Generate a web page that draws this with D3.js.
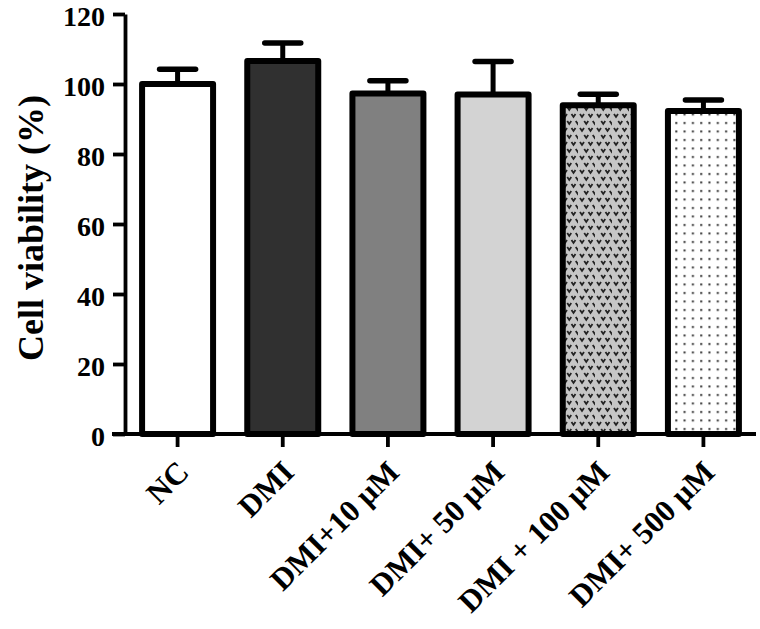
<!DOCTYPE html>
<html>
<head>
<meta charset="utf-8">
<script src="https://cdn.jsdelivr.net/npm/d3@7"></script>
<style>
  html, body { margin: 0; padding: 0; background: #fff; }
  svg { display: block; }
  text { font-family: "Liberation Serif", "Times New Roman", serif; font-weight: bold; fill: #000; }
</style>
</head>
<body>
<svg id="chart" width="760" height="629"></svg>
<script>
const categories = ["NC", "DMI", "DMI+10 \u00b5M", "DMI+ 50 \u00b5M", "DMI + 100 \u00b5M", "DMI+ 500 \u00b5M"];
const means = [100, 106.6, 97.3, 97.0, 93.9, 92.3];
const errors = [4.2, 5.1, 3.6, 9.4, 3.2, 3.1];
const fills = ["#ffffff", "#303030", "#808080", "#d3d3d3", "url(#chevron)", "url(#dots)"];
const yTicks = [0, 20, 40, 60, 80, 100, 120];
const yLabel = "Cell viability (%)";

const svg = d3.select("#chart");

// patterns
const defs = svg.append("defs");
const chev = defs.append("pattern").attr("id", "chevron").attr("patternUnits", "userSpaceOnUse")
  .attr("width", 17).attr("height", 14);
chev.append("rect").attr("width", 17).attr("height", 14).attr("fill", "#c6c6c6");
function vmark(g, x, y) {
  g.append("path").attr("d", `M${x},${y} L${x+2},${y+3} L${x+4},${y}`)
    .attr("fill", "none").attr("stroke", "#222").attr("stroke-width", 1.8);
}
vmark(chev, 2, 2); vmark(chev, 10.5, 2); vmark(chev, 6.25, 9); vmark(chev, 14.75, 9);
const dots = defs.append("pattern").attr("id", "dots").attr("patternUnits", "userSpaceOnUse")
  .attr("width", 8.3).attr("height", 8.5);
dots.append("rect").attr("width", 8.3).attr("height", 8.5).attr("fill", "#ffffff");
dots.append("rect").attr("x", 3).attr("y", 3).attr("width", 2).attr("height", 2).attr("fill", "#333");

const x = d3.scaleBand().domain(categories).range([125, 756]).paddingInner(0.325).paddingOuter(0.1625);
const y = d3.scaleLinear().domain([0, 120]).range([434, 14]);

// bars
const bars = svg.append("g");
categories.forEach((c, i) => {
  bars.append("rect")
    .attr("x", x(c)).attr("y", y(means[i]))
    .attr("width", x.bandwidth()).attr("height", y(0) - y(means[i]))
    .attr("fill", fills[i]).attr("stroke", "#000").attr("stroke-width", 6)
    .attr("stroke-linejoin", "round");
  const cx = x(c) + x.bandwidth() / 2;
  bars.append("line").attr("x1", cx).attr("x2", cx).attr("y1", y(means[i])).attr("y2", y(means[i] + errors[i]))
    .attr("stroke", "#000").attr("stroke-width", 5);
  bars.append("line").attr("x1", cx - 18).attr("x2", cx + 18)
    .attr("y1", y(means[i] + errors[i])).attr("y2", y(means[i] + errors[i]))
    .attr("stroke", "#000").attr("stroke-width", 5.5).attr("stroke-linecap", "round");
});

// y axis
const yAxis = svg.append("g").attr("transform", "translate(125,0)")
  .call(d3.axisLeft(y).tickValues(yTicks).tickSize(12).tickPadding(8).tickSizeOuter(0));
yAxis.attr("font-size", null).attr("font-family", null);
yAxis.select(".domain").attr("stroke", "#000").attr("stroke-width", 3.8);
yAxis.selectAll(".tick line").attr("stroke", "#000").attr("stroke-width", 3.8);
yAxis.selectAll(".tick text").style("font-size", "28px").attr("dy", "0.41em");

// x axis
const xAxis = svg.append("g").attr("transform", "translate(0,434)")
  .call(d3.axisBottom(x).tickSize(13).tickSizeOuter(0).tickFormat(""));
xAxis.attr("font-size", null).attr("font-family", null);
xAxis.select(".domain").attr("stroke", "#000").attr("stroke-width", 3.8)
  .attr("d", "M112,0H756");
xAxis.selectAll(".tick line").attr("stroke", "#000").attr("stroke-width", 3.8);
xAxis.selectAll(".tick").append("text")
  .text(d => d)
  .attr("text-anchor", "end")
  .attr("transform", "translate(13,40) rotate(-45)")
  .style("font-size", "31px");

// y label
svg.append("text")
  .attr("transform", "translate(43,228) rotate(-90)")
  .attr("text-anchor", "middle")
  .style("font-size", "36px")
  .text(yLabel);
</script>
</body>
</html>
